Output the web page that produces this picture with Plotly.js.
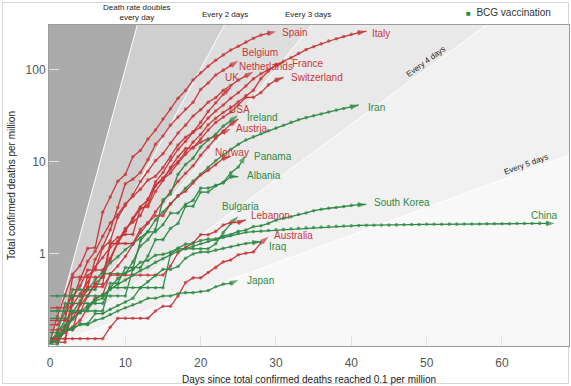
<!DOCTYPE html>
<html><head><meta charset="utf-8">
<script src="https://cdn.plot.ly/plotly-3.0.1.min.js"></script>
<style>html,body{margin:0;padding:0;background:#fff}#chart{width:571px;height:386px}</style>
</head><body><div id="chart"></div>
<script>
// ---- Data: total confirmed deaths per million, by day since reaching 0.1 per million ----
const spain = [0.11,0.21,0.36,0.60,0.75,1.15,1.17,2.84,4.16,6.16,7.29,11.4,13.3,17.7,22.2,29.3,37.8,49.3,59.9,77.8,93.1,109.6,127.5,145.5,164.5,180.5,200.2,220.6,238.8,250,262];
const italy = [0.105,0.116,0.166,0.199,0.28,0.35,0.48,0.56,0.86,1.31,1.77,2.45,3.26,3.86,6.06,7.67,10.45,13.7,16.8,21.0,23.9,30.0,35.8,41.5,49.3,56.4,66.8,79.9,90.7,100.7,113,124.3,135.3,151.3,166,178.6,192,205.9,218,230.5,243.2,254.5,263.2];
const belgium = [0.26,0.26,0.26,0.35,0.35,0.43,0.87,1.2,1.83,3.2,5.8,6.5,7.7,10.6,15.5,19.1,25.1,30.7,37.5,44.6,61.3,72,87.9,99.4,111.6,125.8];
const netherlands = [0.17,0.17,0.23,0.29,0.29,0.58,0.69,1.16,1.39,2.49,3.35,4.39,6.13,7.86,10.3,12.3,16,20.6,25.1,31.6,36.9,44.6,49.9,60.1,67.8,77.4,86,95.4];
const france = [0.105,0.13,0.16,0.28,0.37,0.49,0.72,0.91,1.18,1.36,1.9,2.21,2.61,3.94,5.55,6.72,8.39,10.1,12.8,16.4,19.9,25.3,29.8,34.5,38.9,45.1,52.6,60.2,80.4,97.1,112.8,120.6];
const uk = [0.12,0.12,0.15,0.32,0.53,0.83,1.07,1.56,2.17,2.66,3.5,4.23,5.04,6.35,6.99,8.69,11.4,15.3,18.5,21.2,26.9,35.4,43.9,54.2,64.9];
const switzerland = [0.12,0.12,0.12,0.23,0.23,0.35,0.47,0.47,1.28,1.51,1.63,1.63,3.14,3.26,4.77,6.28,8.72,11.4,14,14.2,17.8,22.2,26.9,30.7,34.9,41.7,50.3,50.3,56.7,68.7,77.4,83.1];
const usa = [0.11,0.12,0.14,0.16,0.19,0.26,0.33,0.36,0.61,0.74,0.94,1.27,1.70,2.15,2.87,3.69,4.82,6.18,7.52,9.08,11.8,14.5,18.1,21.6,25.6,29.3];
const austria = [0.11,0.11,0.11,0.34,0.45,0.67,0.67,0.67,0.9,1.35,1.8,2.4,3.1,3.4,5.5,6.5,7.6,9.7,12.1,14.4,16.4,17.8,18.9,20.9,22.9];
const ireland = [0.2,0.2,0.2,0.41,0.41,0.41,0.41,0.61,0.61,0.61,0.61,0.82,1.22,1.43,1.84,3.88,4.49,7.35,9.39,11.0,14.5,17.3,20,24.5,28,32.2];
const iran = [0.105,0.14,0.19,0.23,0.31,0.41,0.52,0.65,0.8,0.93,1.11,1.29,1.49,1.75,2.34,2.86,3.51,4.27,5.17,6.19,7.36,8.72,10.3,11.9,13.7,15.5,17.3,18.7,20.3,21.8,23.3,25,26.9,28.7,30.3,31.8,33.2,34.9,36.6,38.1,39.7,41.6];
const norway = [0.19,0.19,0.19,0.56,0.56,0.56,0.56,0.56,1.3,1.3,1.3,1.3,1.85,2.2,2.6,2.6,3.5,4.3,4.8,5.9,7.2,8.1,9.3,10.9,11.5];
const panama = [0.24,0.24,0.24,0.24,0.24,0.24,0.24,0.24,0.48,0.48,0.71,0.71,0.71,0.95,1.43,1.43,1.9,2.14,3.3,3.3,4.7,4.7,5.5,6.0,7.6,8.8,11.9];
const albania = [0.35,0.35,0.35,0.35,0.35,0.35,0.35,0.35,0.35,0.35,0.35,0.69,1.39,1.74,1.74,2.08,2.78,2.78,3.47,3.82,5.2,5.2,5.56,5.9,6.94,6.94];
const bulgaria = [0.14,0.14,0.29,0.29,0.29,0.29,0.29,0.29,0.43,0.43,0.43,0.43,0.43,0.43,0.43,0.43,1.0,1.14,1.14,1.14,1.14,1.14,1.29,1.71,2.14,2.57];
const lebanon = [0.15,0.15,0.15,0.15,0.29,0.44,0.44,0.44,0.59,0.59,0.59,0.59,0.59,0.59,0.59,0.59,0.74,1.03,1.18,1.32,1.62,1.62,1.76,2.06,2.2,2.2,2.35];
const southKorea = [0.105,0.116,0.155,0.194,0.233,0.252,0.31,0.33,0.43,0.54,0.62,0.68,0.81,0.85,0.97,0.99,1.05,1.16,1.28,1.30,1.40,1.45,1.45,1.57,1.63,1.76,1.82,1.98,2.02,2.15,2.33,2.44,2.54,2.69,2.79,2.95,3.06,3.14,3.2,3.28,3.37,3.43,3.45];
const china = [0.11,0.14,0.17,0.20,0.23,0.27,0.32,0.36,0.41,0.47,0.52,0.59,0.66,0.72,0.81,0.89,0.98,1.07,1.14,1.21,1.29,1.37,1.44,1.51,1.58,1.67,1.72,1.75,1.77,1.80,1.83,1.85,1.88,1.90,1.92,1.94,1.96,1.98,2.00,2.01,2.02,2.04,2.05,2.05,2.06,2.06,2.07,2.08,2.09,2.09,2.10,2.10,2.10,2.11,2.11,2.12,2.12,2.12,2.13,2.13,2.13,2.13,2.14,2.14,2.14,2.15,2.15,2.15];
const australia = [0.12,0.12,0.12,0.12,0.12,0.12,0.12,0.12,0.16,0.2,0.2,0.2,0.2,0.2,0.24,0.27,0.27,0.35,0.49,0.55,0.55,0.63,0.71,0.82,0.86,0.98,1.02,1.05,1.32,1.54];
const iraq = [0.105,0.105,0.15,0.15,0.175,0.175,0.225,0.225,0.25,0.275,0.3,0.33,0.43,0.5,0.58,0.68,0.68,0.73,0.9,1.0,1.05,1.05,1.1,1.15,1.2,1.25,1.3,1.33,1.36];
const japan = [0.12,0.13,0.15,0.16,0.17,0.17,0.19,0.2,0.22,0.24,0.26,0.28,0.3,0.33,0.33,0.35,0.35,0.37,0.38,0.38,0.39,0.4,0.44,0.47,0.48,0.52];

const countryNames = ['Spain','Italy','Belgium','Netherlands','France','UK','Switzerland','USA','Austria','Ireland','Iran','Norway','Panama','Albania','Bulgaria','Lebanon','South Korea','China','Australia','Iraq','Japan'];
const countryValues = [spain,italy,belgium,netherlands,france,uk,switzerland,usa,austria,ireland,iran,norway,panama,albania,bulgaria,lebanon,southKorea,china,australia,iraq,japan];
const bcgCountries = ['Ireland','Iran','Panama','Albania','Bulgaria','South Korea','China','Iraq','Japan'];

// Reference doubling lines (days to double, starting at 0.1 per million on day 0)
const refDoubling = [1, 2, 3, 5, 10];
const refStart = 0.1;

// ---- Styles / positions (not data) ----
const RED = '#c8383b', GREEN = '#2f8a45';
const bandColors = ['#cfcfcf', '#dedede', '#e9e9e9', '#f1f1f1', '#f8f8f8'];
// label offsets from last point in screen px: [dx, dy(down), anchor]
const labelOffset = {
  'Spain':[4,1,'left'], 'Italy':[4,2,'left'], 'Belgium':[2,-8,'left'], 'Netherlands':[-16,-5,'left'],
  'France':[6,1,'left'], 'UK':[-8,-10,'left'], 'Switzerland':[5,0,'left'], 'USA':[-11,-9,'left'],
  'Austria':[3,0,'left'], 'Ireland':[7,2,'left'], 'Iran':[7,3,'left'], 'Norway':[-18,-4,'left'],
  'Panama':[6,2,'left'], 'Albania':[7,-1,'left'], 'Bulgaria':[-18,-10,'left'], 'Lebanon':[3,-4,'left'],
  'South Korea':[6,-2,'left'], 'China':[5,-8,'right'], 'Australia':[4,-1,'left'], 'Iraq':[6,5,'left'],
  'Japan':[7,0,'left']
};

const X_RANGE = [-0.13, 68.9];
const Y_RANGE = [-1.0, 2.488];
const FONT = 'Liberation Sans, Arial, Helvetica, sans-serif';

const traces = [];
const XL = -2, XR = 80, YB = 0.005, YT = 1000;
function refY(d, x) { return refStart * Math.pow(2, x / d); }
refDoubling.forEach((d, i) => {
  const xTop = d * Math.log2(YT / refStart);
  let poly;
  if (xTop < XR) poly = [[XL, refY(d, XL)], [xTop, YT], [XR, YT], [XR, YB], [XL, YB]];
  else poly = [[XL, refY(d, XL)], [XR, refY(d, XR)], [XR, YB], [XL, YB]];
  poly.push(poly[0]);
  traces.push({type:'scatter', mode:'lines', x:poly.map(p=>p[0]), y:poly.map(p=>p[1]),
    fill:'toself', fillcolor:bandColors[i], line:{width:0, color:bandColors[i]}, hoverinfo:'skip', showlegend:false});
});
refDoubling.forEach(d => {
  const xe = Math.min(XR, d * Math.log2(YT / refStart));
  traces.push({type:'scatter', mode:'lines', x:[XL, xe], y:[refY(d, XL), refY(d, xe)],
    line:{color:'#ffffff', width:1}, hoverinfo:'skip', showlegend:false});
});

const annotations = [];
countryNames.forEach((name, k) => {
  const vals = countryValues[k];
  const n = vals.length;
  const days = vals.map((_, i) => i);
  const col = bcgCountries.includes(name) ? GREEN : RED;
  traces.push({type:'scatter', mode:'lines+markers', name:name, x:days, y:vals,
    line:{color:col, width:1.3},
    marker:{color:col, size:days.map(i => i === n-1 ? 9 : 3.6),
      symbol:days.map(i => i === n-1 ? 'arrow' : 'circle'), angleref:'previous', line:{width:0}},
    showlegend:false, hoverinfo:'name+x+y'});
  const off = labelOffset[name];
  annotations.push({x:n-1, y:Math.log10(vals[n-1]), xref:'x', yref:'y', text:name, showarrow:false,
    xanchor:off[2], yanchor:'middle', xshift:off[0], yshift:-off[1],
    font:{family:FONT, size:10, color:col}});
});

// reference line labels
function topX(d) { return d * Math.log2(Math.pow(10, Y_RANGE[1]) / refStart); }
annotations.push({x:topX(1), y:1, xref:'x', yref:'paper', yshift:1, text:'Death rate doubles<br>every day',
  showarrow:false, xanchor:'center', yanchor:'bottom', font:{family:FONT, size:8, color:'#222'}});
annotations.push({x:topX(2), y:1, xref:'x', yref:'paper', yshift:4, text:'Every 2 days',
  showarrow:false, xanchor:'center', yanchor:'bottom', font:{family:FONT, size:8, color:'#222'}});
annotations.push({x:topX(3), y:1, xref:'x', yref:'paper', xshift:-4, yshift:4, text:'Every 3 days',
  showarrow:false, xanchor:'center', yanchor:'bottom', font:{family:FONT, size:8, color:'#222'}});
annotations.push({x:50.2, y:Math.log10(refY(5, 50.2)), xref:'x', yref:'y', xshift:-2, yshift:6, text:'Every 4 days',
  textangle:-36, showarrow:false, xanchor:'center', yanchor:'middle', font:{family:FONT, size:8, color:'#222'}});
annotations.push({x:63.3, y:Math.log10(refY(10, 63.3)), xref:'x', yref:'y', xshift:-1, yshift:6, text:'Every 5 days',
  textangle:-20, showarrow:false, xanchor:'center', yanchor:'middle', font:{family:FONT, size:8, color:'#222'}});
// legend
annotations.push({x:0.969, y:1.04, xref:'paper', yref:'paper', xanchor:'right', yanchor:'middle', showarrow:false,
  text:'<span style="color:' + GREEN + ';font-size:8px">■</span>  BCG vaccination', font:{family:FONT, size:10, color:'#333'}});

const layout = {
  width:571, height:386, margin:{l:49, r:2, t:25, b:40, pad:0},
  paper_bgcolor:'#ffffff', plot_bgcolor:'#ababab',
  font:{family:FONT, color:'#333'}, showlegend:false,
  xaxis:{range:X_RANGE, tickvals:[0,10,20,30,40,50,60], ticks:'inside', ticklen:10, tickcolor:'#e2e2e2', tickwidth:1,
    showgrid:false, zeroline:false, showline:true, linecolor:'#9c9c9c', linewidth:1, mirror:true,
    tickfont:{family:FONT, size:12, color:'#555'}, ticklabelstandoff:6,
    title:{text:'Days since total confirmed deaths reached 0.1 per million', font:{family:FONT, size:10, color:'#222'}, standoff:6}},
  yaxis:{type:'log', range:Y_RANGE, tickvals:[1,10,100], ticktext:['1','10','100'], ticks:'inside', ticklen:10,
    tickcolor:'#e2e2e2', tickwidth:1, showgrid:false, zeroline:false, showline:true, linecolor:'#9c9c9c', linewidth:1, mirror:true,
    tickfont:{family:FONT, size:12, color:'#555'},
    title:{text:'Total confirmed deaths per million', font:{family:FONT, size:10, color:'#222'}, standoff:8}},
  annotations:annotations,
  shapes:[{type:'rect', xref:'paper', yref:'paper', x0:(2.5-49)/520, x1:(568.5-49)/520, y0:(346-383.5)/321, y1:(346-2.5)/321,
    line:{color:'#d6d6d6', width:1}, fillcolor:'rgba(0,0,0,0)', layer:'below'}]
};

Plotly.newPlot('chart', traces, layout, {staticPlot:true, displayModeBar:false});
</script></body></html>
